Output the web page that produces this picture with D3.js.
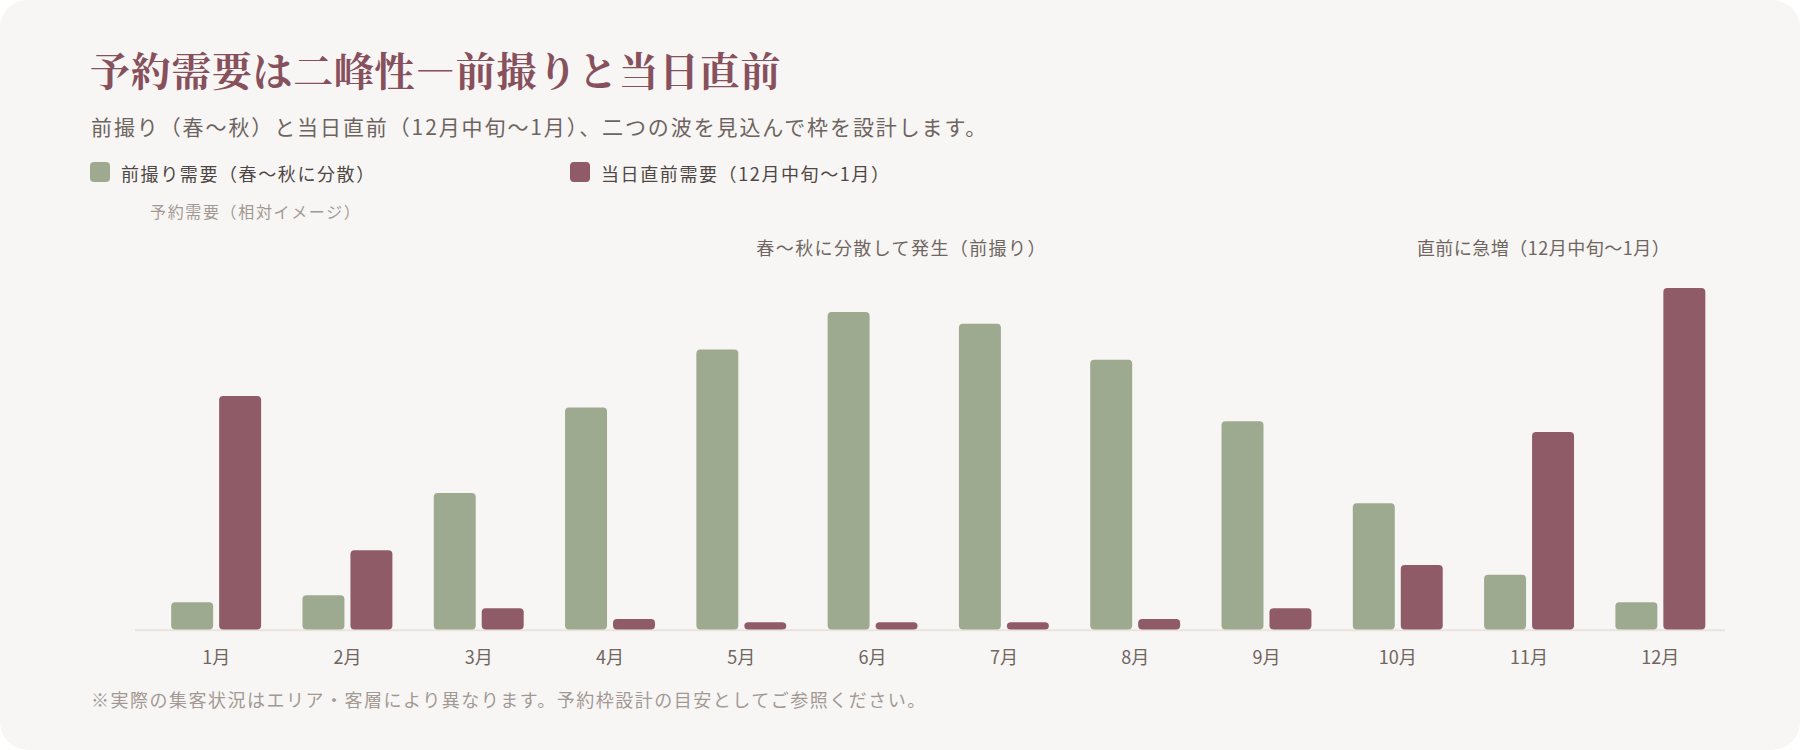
<!DOCTYPE html>
<html lang="ja">
<head>
<meta charset="utf-8">
<script src="https://cdn.jsdelivr.net/npm/d3@7"></script>
<style>
  html, body { margin: 0; padding: 0; background: #ffffff; }
  svg { display: block; font-family: "Noto Sans CJK JP", "Noto Sans", sans-serif; }
</style>
</head>
<body>
<div id="chart"></div>
<script>
// 月
const months = ['1月', '2月', '3月', '4月', '5月', '6月', '7月', '8月', '9月', '10月', '11月', '12月'];
// 前撮り需要（相対値）
const maedoriValues = [8, 10, 40, 65, 82, 93, 89.5, 79, 61, 37, 16, 8];
// 当日直前需要（相対値）
const chokuzenValues = [68.4, 23.2, 6.2, 3.1, 2.1, 2.1, 2.1, 3.1, 6.2, 18.9, 57.8, 100];
const seriesKeys = ['maedori', 'chokuzen'];
const seriesNames = ['前撮り需要（春〜秋に分散）', '当日直前需要（12月中旬〜1月）'];
const seriesColors = ['#9daa8f', '#8e5b67'];

const titleText = '予約需要は二峰性—前撮りと当日直前';
const subtitleText = '前撮り（春〜秋）と当日直前（12月中旬〜1月）、二つの波を見込んで枠を設計します。';
const yLabelText = '予約需要（相対イメージ）';
const noteMaedori = '春〜秋に分散して発生（前撮り）';
const noteChokuzen = '直前に急増（12月中旬〜1月）';
const footText = '※実際の集客状況はエリア・客層により異なります。予約枠設計の目安としてご参照ください。';

const width = 1800;
const height = 750;
const baseY = 629.5;

const rows = months.map((m, i) => ({ month: m, maedori: maedoriValues[i], chokuzen: chokuzenValues[i] }));

const svg = d3.select('#chart').append('svg')
    .attr('width', width)
    .attr('height', height);

// 背景カード
svg.append('rect')
    .attr('width', width)
    .attr('height', height)
    .attr('rx', 28)
    .attr('fill', '#f8f6f4');

// タイトル
svg.append('text')
    .attr('x', 90)
    .attr('y', 68)
    .attr('dominant-baseline', 'central')
    .attr('font-family', '"Noto Serif CJK JP", "Noto Sans CJK JP", serif')
    .attr('font-size', 40)
    .attr('font-weight', 700)
    .attr('letter-spacing', 0.65)
    .attr('fill', '#87505d')
    .text(titleText);

svg.append('text')
    .attr('x', 91)
    .attr('y', 126)
    .attr('dominant-baseline', 'central')
    .attr('font-size', 21)
    .attr('letter-spacing', 1.9)
    .attr('fill', '#6d6460')
    .text(subtitleText);

// 凡例
const legend = svg.selectAll('.legend')
    .data(seriesKeys)
    .join('g')
    .attr('class', 'legend')
    .attr('transform', (d, i) => `translate(${[90 + i * 480, 162]})`);

legend.append('rect')
    .attr('width', 20)
    .attr('height', 20)
    .attr('rx', 4)
    .attr('fill', (d, i) => seriesColors[i]);

legend.append('text')
    .attr('x', 31)
    .attr('y', 10.5)
    .attr('dominant-baseline', 'central')
    .attr('font-size', 18)
    .attr('letter-spacing', 1.6)
    .attr('fill', '#4f4745')
    .text((d, i) => seriesNames[i]);

// スケール
const x0 = d3.scaleBand()
    .domain(months)
    .range([150.5, 1726])
    .paddingInner(0.315)
    .paddingOuter(0.1575);

const x1 = d3.scaleBand()
    .domain(seriesKeys)
    .range([0, x0.bandwidth()])
    .paddingInner(0.125);

const y = d3.scaleLinear()
    .domain([0, 100])
    .range([baseY, 288]);

// 軸ラベル
svg.append('text')
    .attr('x', 150)
    .attr('y', 211)
    .attr('dominant-baseline', 'central')
    .attr('font-size', 16)
    .attr('letter-spacing', 1.65)
    .attr('fill', '#a39994')
    .text(yLabelText);

// 注記
svg.append('text')
    .attr('x', x0('6月') + x1('chokuzen') + x1.bandwidth() / 2 + 5)
    .attr('y', 247)
    .attr('text-anchor', 'middle')
    .attr('dominant-baseline', 'central')
    .attr('font-size', 18)
    .attr('letter-spacing', 1.4)
    .attr('fill', '#6f6662')
    .text(noteMaedori);

svg.append('text')
    .attr('x', x0('12月') + x0.bandwidth() / 2 + 10)
    .attr('y', 247)
    .attr('text-anchor', 'end')
    .attr('dominant-baseline', 'central')
    .attr('font-size', 18)
    .attr('letter-spacing', 0.5)
    .attr('fill', '#6f6662')
    .text(noteChokuzen);

// ベースライン
svg.append('path')
    .attr('d', d3.line()([[135, baseY + 0.8], [1725, baseY + 0.8]]))
    .attr('stroke', '#ebe3de')
    .attr('stroke-width', 2);

// 棒
const group = svg.selectAll('.month')
    .data(rows)
    .join('g')
    .attr('class', 'month')
    .attr('transform', d => `translate(${[x0(d.month), 0]})`);

group.selectAll('rect')
    .data(d => seriesKeys.map((k, i) => ({ key: k, value: d[k], color: seriesColors[i] })))
    .join('rect')
    .attr('x', d => x1(d.key))
    .attr('y', d => y(d.value))
    .attr('width', x1.bandwidth())
    .attr('height', d => baseY - y(d.value))
    .attr('rx', 4)
    .attr('fill', d => d.color);

// 月ラベル
svg.selectAll('.month-label')
    .data(months)
    .join('text')
    .attr('class', 'month-label')
    .attr('x', d => x0(d) + x0.bandwidth() / 2)
    .attr('y', 656)
    .attr('text-anchor', 'middle')
    .attr('dominant-baseline', 'central')
    .attr('font-size', 18)
    .attr('fill', '#6f6561')
    .text(d => d);

// 脚注
svg.append('text')
    .attr('x', 91)
    .attr('y', 699)
    .attr('dominant-baseline', 'central')
    .attr('font-size', 18)
    .attr('letter-spacing', 1.5)
    .attr('fill', '#a39994')
    .text(footText);
</script>
</body>
</html>
